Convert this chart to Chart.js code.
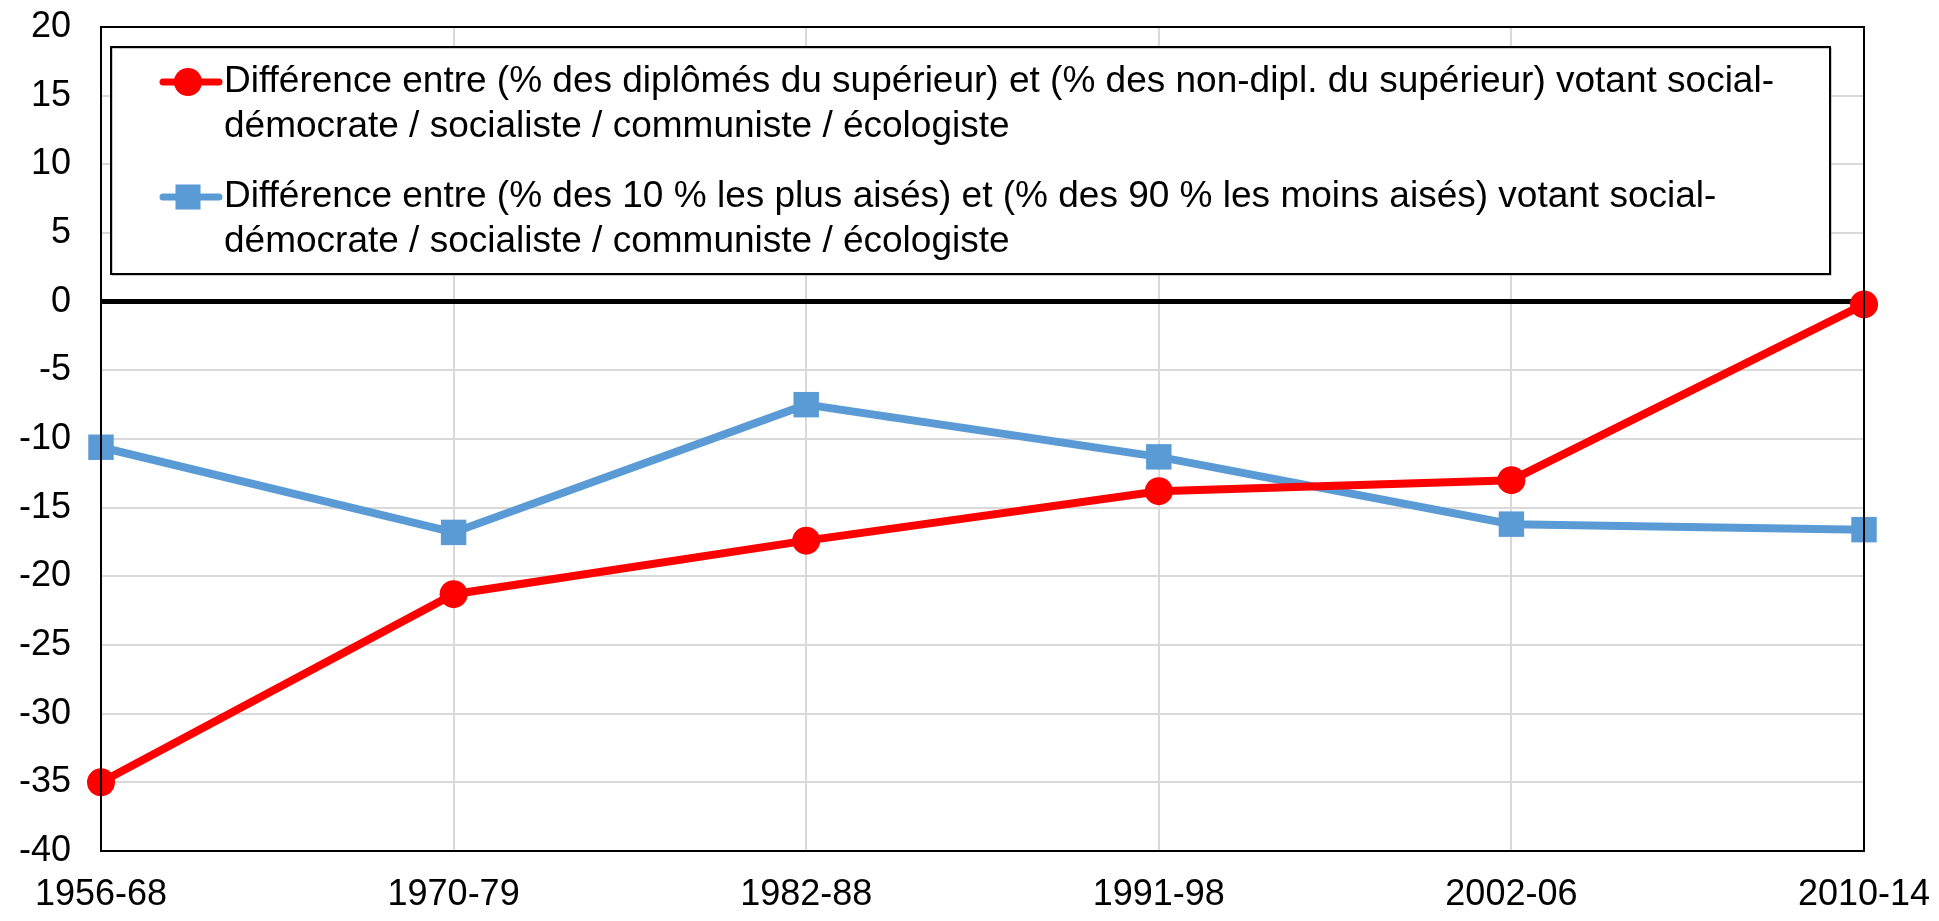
<!doctype html>
<html>

<head>
	<title>Différences de vote</title>
	<script src="https://cdn.jsdelivr.net/npm/chart.js@4/dist/chart.umd.min.js"></script>
	<style>
		html, body {
			margin: 0;
			padding: 0;
			background: #fff;
		}
		#wrap {
			width: 1939px;
			height: 921px;
		}
	</style>
</head>

<body>
	<div id="wrap">
		<canvas id="canvas"></canvas>
	</div>
	<script>
		var periods = ['1956-68', '1970-79', '1982-88', '1991-98', '2002-06', '2010-14'];
		var diplomes = [-35.0, -21.3, -17.4, -13.8, -13.0, -0.2];
		var revenus = [-10.6, -16.8, -7.5, -11.3, -16.2, -16.6];
		var legendLabels = [
			['Différence entre (% des diplômés du supérieur) et (% des non-dipl. du supérieur) votant social-',
				'démocrate / socialiste / communiste / écologiste'],
			['Différence entre (% des 10 % les plus aisés) et (% des 90 % les moins aisés) votant social-',
				'démocrate / socialiste / communiste / écologiste']
		];

		var RED = '#ff0000';
		var BLUE = '#5b9bd5';
		var FONT = 'Liberation Sans, Arial, sans-serif';

		// frame around plot + boxed legend inside the plot
		var boxLegend = {
			id: 'boxLegend',
			afterDraw: function(chart) {
				var ctx = chart.ctx;
				var a = chart.chartArea;
				ctx.save();
				ctx.strokeStyle = '#000';
				ctx.lineWidth = 2;
				ctx.strokeRect(a.left, a.top, a.right - a.left, a.bottom - a.top);

				var x0 = 111, y0 = 47, x1 = 1830, y1 = 274;
				ctx.fillStyle = '#fff';
				ctx.fillRect(x0, y0, x1 - x0, y1 - y0);
				ctx.strokeStyle = '#9a9a9a';
				ctx.lineWidth = 1;
				ctx.strokeRect(x0 + 1, y0 + 1, x1 - x0, y1 - y0);
				ctx.strokeStyle = '#000';
				ctx.lineWidth = 2;
				ctx.strokeRect(x0, y0, x1 - x0, y1 - y0);

				var rows = [82, 197];
				chart.data.datasets.forEach(function(ds, i) {
					var y = rows[i];
					ctx.strokeStyle = ds.borderColor;
					ctx.lineWidth = 7;
					ctx.lineCap = 'round';
					ctx.beginPath();
					ctx.moveTo(163, y);
					ctx.lineTo(219, y);
					ctx.stroke();
					ctx.fillStyle = ds.backgroundColor;
					if (ds.pointStyle === 'rect') {
						ctx.fillRect(188 - 12.5, y - 12.5, 25, 25);
					} else {
						ctx.beginPath();
						ctx.arc(188, y, 14, 0, Math.PI * 2);
						ctx.fill();
					}
					ctx.fillStyle = '#000';
					ctx.font = '37px ' + FONT;
					ctx.textBaseline = 'middle';
					ctx.textAlign = 'left';
					legendLabels[i].forEach(function(line, j) {
						ctx.fillText(line, 224, y + j * 45);
					});
				});
				ctx.restore();
			}
		};

		var config = {
			type: 'line',
			data: {
				labels: periods,
				datasets: [{
					label: legendLabels[0].join(''),
					data: diplomes,
					borderColor: RED,
					backgroundColor: RED,
					borderWidth: 8,
					pointStyle: 'circle',
					pointRadius: 14,
					pointBorderWidth: 0,
					pointHoverRadius: 14,
					tension: 0
				}, {
					label: legendLabels[1].join(''),
					data: revenus,
					borderColor: BLUE,
					backgroundColor: BLUE,
					borderWidth: 8,
					pointStyle: 'rect',
					pointRadius: 18,
					pointBorderWidth: 0,
					pointHoverRadius: 18,
					tension: 0
				}]
			},
			options: {
				responsive: true,
				maintainAspectRatio: false,
				animation: false,
				layout: {
					padding: { top: 27, right: 75, bottom: 0, left: 0 }
				},
				plugins: {
					legend: { display: false },
					tooltip: { enabled: false }
				},
				scales: {
					x: {
						afterFit: function(scale) {
							scale.paddingLeft = 0;
							scale.paddingRight = 0;
							scale.height = 70;
						},
						grid: {
							color: '#d9d9d9',
							lineWidth: 2,
							drawTicks: false
						},
						border: { display: false },
						ticks: {
							color: '#000',
							font: { family: FONT, size: 36 },
							padding: 22,
							autoSkip: false,
							maxRotation: 0
						}
					},
					y: {
						min: -40,
						max: 20,
						afterFit: function(scale) {
							scale.width = 101;
							scale.paddingTop = 0;
							scale.paddingBottom = 0;
						},
						grid: {
							color: function(c) { return c.tick && c.tick.value === 0 ? '#000' : '#d9d9d9'; },
							lineWidth: function(c) { return c.tick && c.tick.value === 0 ? 5 : 2; },
							drawTicks: false
						},
						border: { display: false },
						ticks: {
							stepSize: 5,
							color: '#000',
							font: { family: FONT, size: 36 },
							padding: 30
						}
					}
				}
			},
			plugins: [boxLegend]
		};

		window.onload = function() {
			window.myLine = new Chart('canvas', config);
		};
	</script>
</body>

</html>
